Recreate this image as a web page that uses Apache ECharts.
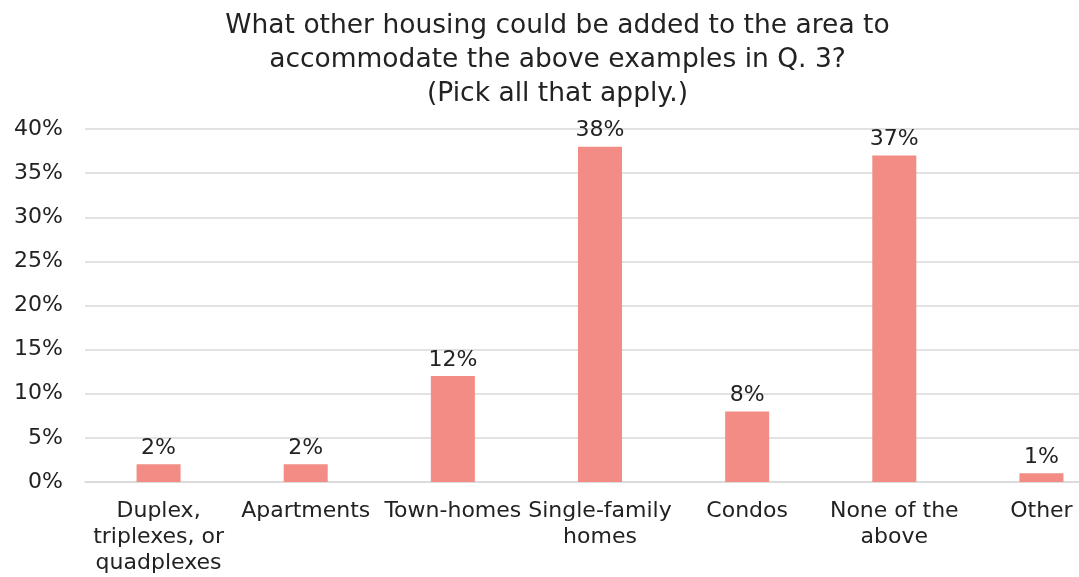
<!DOCTYPE html>
<html>
<head>
<meta charset="utf-8">
<script src="https://cdn.jsdelivr.net/npm/echarts@6/dist/echarts.min.js"></script>
<style>
  html, body { margin: 0; padding: 0; background: #fff; overflow: hidden; }
  /* the original is cropped on the right, so the chart is wider than the window */
  #chart { width: 1115px; height: 577px; }
</style>
</head>
<body>
<div id="chart"></div>
<script>
var categories = ['Duplex,\ntriplexes, or\nquadplexes', 'Apartments', 'Town-homes',
                  'Single-family\nhomes', 'Condos', 'None of the\nabove', 'Other'];
var percents = [2, 2, 12, 38, 8, 37, 1];

var font = 'DejaVu Sans';
var myChart = echarts.init(document.getElementById('chart'));

var option = {
    animation: false,
    title: {
        text: 'What other housing could be added to the area to\naccommodate the above examples in Q. 3?\n(Pick all that apply.)',
        left: 'center',
        top: 4,
        textStyle: {
            fontFamily: font,
            fontSize: 26.5,
            fontWeight: 'normal',
            color: '#222',
            lineHeight: 34
        }
    },
    grid: {
        left: 85,
        right: 0,
        top: 129,
        height: 353
    },
    xAxis: {
        type: 'category',
        data: categories,
        axisLine: { lineStyle: { color: '#d9d9d9', width: 1.5 } },
        axisTick: { show: false },
        axisLabel: {
            interval: 0,
            margin: 16,
            fontFamily: font,
            fontSize: 22,
            lineHeight: 26,
            color: '#222'
        }
    },
    yAxis: {
        type: 'value',
        min: 0,
        max: 40,
        interval: 5,
        axisLine: { show: false },
        axisTick: { show: false },
        splitLine: { lineStyle: { color: '#d9d9d9', width: 1.5 } },
        axisLabel: {
            formatter: '{value}%',
            margin: 22,
            fontFamily: font,
            fontSize: 22,
            color: '#222'
        }
    },
    series: [{
        type: 'bar',
        data: percents,
        barWidth: 44,
        itemStyle: { color: '#f28c84' },
        label: {
            show: true,
            position: 'top',
            distance: 5,
            formatter: '{c}%',
            fontFamily: font,
            fontSize: 22,
            color: '#222'
        }
    }]
};

myChart.setOption(option);
</script>
</body>
</html>
